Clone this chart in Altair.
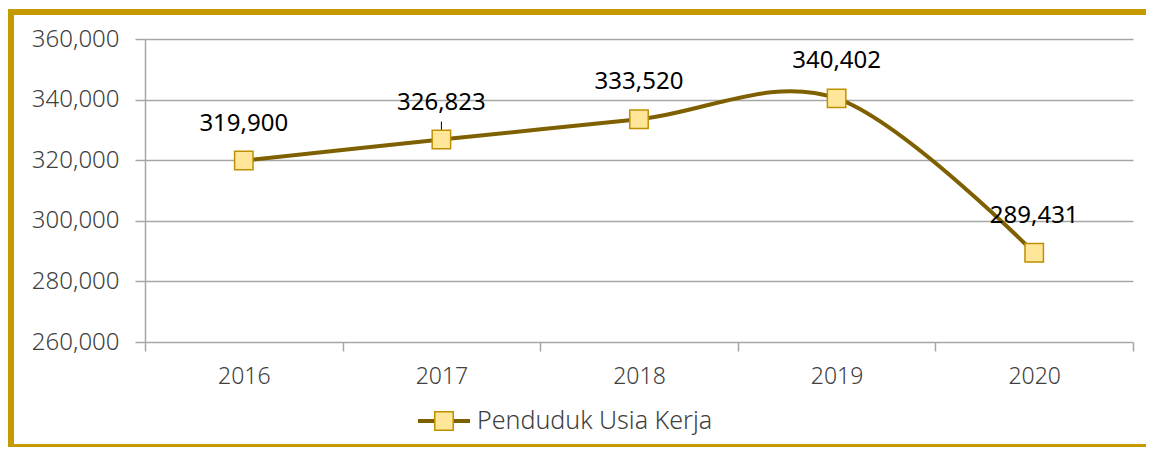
import altair as alt
import pandas as pd

years = ["2016", "2017", "2018", "2019", "2020"]
values = [319900, 326823, 333520, 340402, 289431]
series_name = "Penduduk Usia Kerja"

df = pd.DataFrame({"Tahun": years, "Nilai": values})

FONT = "Noto Sans"
LINE = "#7F6000"
MFILL = "#FFE699"
MSTROKE = "#BF9000"
GOLD = "#C49A00"

x_enc = alt.X(
    "Tahun:O",
    scale=alt.Scale(type="band", paddingInner=0, paddingOuter=0),
    axis=alt.Axis(
        title=None, labelAngle=0, tickBand="extent", ticks=True, tickSize=9,
        tickColor="#A6A6A6", tickWidth=1.5, domain=False, grid=False,
        labelFont=FONT, labelFontSize=23, labelColor="#404040", labelPadding=14,
        labelFontWeight=300,
    ),
)
y_enc = alt.Y(
    "Nilai:Q",
    scale=alt.Scale(domain=[260000, 360000], nice=False, zero=False),
    axis=alt.Axis(
        title=None, values=[260000, 280000, 300000, 320000, 340000, 360000],
        format=",.0f", grid=True, gridColor="#A6A6A6", gridWidth=1.5,
        ticks=True, tickSize=10, tickColor="#A6A6A6", tickWidth=1.5,
        domain=True, domainColor="#A6A6A6", domainWidth=1.5,
        labelFont=FONT, labelFontSize=24, labelColor="#404040", labelPadding=16,
        labelFontWeight=300,
    ),
)

base = alt.Chart(df).encode(x=x_enc, y=y_enc)

line = base.mark_line(color=LINE, strokeWidth=4, interpolate="cardinal", tension=0)
points = base.mark_point(shape="square", filled=True, size=340, fill=MFILL,
                         stroke=MSTROKE, strokeWidth=1.5, opacity=1)
labels = base.mark_text(dy=-37, font=FONT, fontSize=24, color="#000000",
                        baseline="middle").encode(text=alt.Text("Nilai:Q", format=",.0f"))
leader = base.transform_filter(alt.datum.Tahun == "2017").mark_rule(
    color="#000000", strokeWidth=1, yOffset=-18, y2Offset=-9
).encode(y2="Nilai:Q")

frame_df = pd.DataFrame({"k": [0]})
frame = alt.Chart(frame_df).mark_rect(
    fill=None, stroke=GOLD, strokeWidth=6, filled=False
).encode(x=alt.value(-134), x2=alt.value(1040), y=alt.value(-27), y2=alt.value(408))

leg_df = pd.DataFrame({"name": [series_name]})
leg_line = alt.Chart(leg_df).mark_rule(color=LINE, strokeWidth=4).encode(
    x=alt.value(273), x2=alt.value(325), y=alt.value(382))
leg_pt = alt.Chart(leg_df).mark_point(shape="square", filled=True, size=340,
                                      fill=MFILL, stroke=MSTROKE, strokeWidth=1.5,
                                      opacity=1).encode(x=alt.value(299), y=alt.value(382))
leg_txt = alt.Chart(leg_df).mark_text(align="left", baseline="middle", font=FONT,
                                      fontSize=25, color="#404040", fontWeight=300).encode(
    x=alt.value(332), y=alt.value(382), text="name:N")

chart = alt.layer(frame, line, leader, points, labels, leg_line, leg_pt, leg_txt).properties(
    width=988, height=303,
    autosize=alt.AutoSizeParams(type="none"),
    padding={"left": 137, "top": 31, "right": 13, "bottom": 105},
    background="white",
).configure_view(stroke=None)

chart.save("out.html", embed_options={"renderer": "svg", "actions": False})
